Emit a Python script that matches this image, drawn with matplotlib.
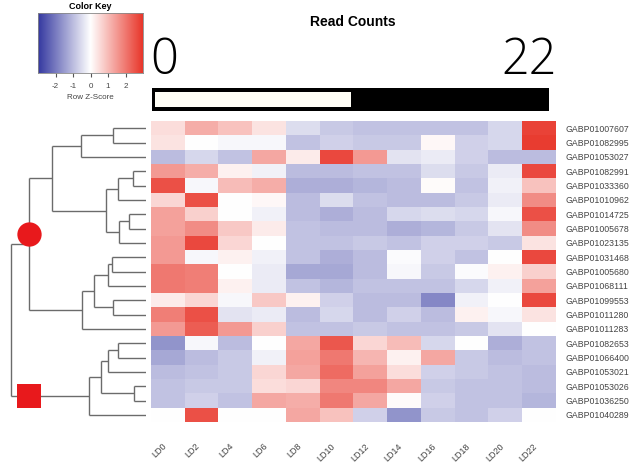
import numpy as np
import matplotlib
matplotlib.use("Agg")
import matplotlib.pyplot as plt
from matplotlib.colors import LinearSegmentedColormap
from matplotlib.patches import Rectangle

plt.rcParams['font.family'] = ['Liberation Sans', 'DejaVu Sans']

# ---- data -------------------------------------------------------------
samples = ["LD0", "LD2", "LD4", "LD6", "LD8", "LD10", "LD12", "LD14",
           "LD16", "LD18", "LD20", "LD22"]

genes = ["GABP01007607", "GABP01082995", "GABP01053027", "GABP01082991",
         "GABP01033360", "GABP01010962", "GABP01014725", "GABP01005678",
         "GABP01023135", "GABP01031468", "GABP01005680", "GABP01068111",
         "GABP01099553", "GABP01011280", "GABP01011283", "GABP01082653",
         "GABP01066400", "GABP01053021", "GABP01053026", "GABP01036250",
         "GABP01040289"]

# row z-scores, one list per gene (columns follow `samples`)
z_GABP01007607 = [0.5, 1.2, 0.9, 0.4, -0.5, -0.8, -0.9, -0.9, -0.9, -0.9, -0.6, 2.8]
z_GABP01082995 = [0.4, 0.0, -0.1, -0.1, -0.9, -0.7, -0.8, -0.8, 0.1, -0.7, -0.6, 2.9]
z_GABP01053027 = [-1.0, -0.6, -0.9, 1.3, 0.3, 2.7, 1.5, -0.4, -0.3, -0.7, -1.0, -1.0]
z_GABP01082991 = [1.5, 1.2, 0.2, -0.2, -1.0, -1.0, -0.9, -0.9, -0.5, -0.8, -0.3, 2.7]
z_GABP01033360 = [2.6, -0.1, 1.0, 1.2, -1.2, -1.2, -1.1, -1.0, 0.05, -0.9, -0.2, 0.9]
z_GABP01010962 = [0.6, 2.6, 0.0, 0.1, -1.0, -0.5, -0.9, -1.0, -1.0, -0.8, -0.3, 1.7]
z_GABP01014725 = [1.4, 0.7, 0.0, -0.2, -1.0, -1.2, -1.0, -0.6, -0.5, -0.6, -0.1, 2.6]
z_GABP01005678 = [1.4, 1.7, 0.8, 0.3, -0.9, -1.0, -1.0, -1.2, -1.1, -0.8, -0.4, 1.7]
z_GABP01023135 = [1.5, 2.7, 0.6, 0.0, -0.9, -0.9, -0.8, -0.9, -0.7, -0.7, -0.8, 0.4]
z_GABP01031468 = [1.5, -0.1, 0.2, -0.2, -0.9, -1.2, -1.0, -0.05, -0.7, -0.9, 0.0, 2.7]
z_GABP01005680 = [2.0, 1.9, 0.0, -0.3, -1.3, -1.3, -1.0, -0.1, -0.8, -0.05, 0.2, 0.7]
z_GABP01068111 = [2.0, 1.9, 0.2, -0.3, -0.9, -1.1, -0.9, -0.9, -0.9, -0.6, -0.2, 1.4]
z_GABP01099553 = [0.3, 0.6, -0.1, 0.8, 0.2, -0.7, -1.0, -1.0, -1.8, -0.2, 0.0, 2.7]
z_GABP01011280 = [1.9, 2.6, -0.4, -0.3, -1.0, -0.6, -1.0, -0.7, -1.0, 0.2, -0.1, 0.4]
z_GABP01011283 = [1.5, 2.4, 1.5, 0.7, -0.9, -0.9, -0.8, -0.9, -0.9, -0.8, -0.4, 0.0]
z_GABP01082653 = [-1.6, -0.1, -1.0, 0.0, 1.3, 2.5, 0.6, 1.0, -0.6, 0.0, -1.2, -0.9]
z_GABP01066400 = [-1.3, -1.0, -0.8, -0.2, 1.4, 2.0, 1.1, 0.2, 1.3, -0.8, -1.0, -0.9]
z_GABP01053021 = [-1.0, -0.9, -0.8, 0.6, 1.3, 2.2, 1.4, 0.5, -0.7, -0.8, -0.9, -1.0]
z_GABP01053026 = [-0.9, -0.8, -0.8, 0.5, 0.6, 1.8, 1.8, 1.3, -0.8, -0.9, -0.9, -1.0]
z_GABP01036250 = [-0.9, -0.7, -0.9, 1.3, 1.2, 2.0, 1.3, 0.05, -0.7, -0.9, -0.9, -1.1]
z_GABP01040289 = [0.0, 2.6, 0.0, 0.0, 1.3, 0.9, -0.7, -1.6, -0.8, -0.9, -0.7, 0.0]

# row dendrogram merges: (left child, right child, height); ids >= 21 are clusters
merges = [
    (0, 1, 33), (21, 2, 65), (3, 4, 13), (23, 5, 28), (6, 7, 17),
    (25, 8, 27), (24, 26, 40), (22, 27, 94), (9, 10, 34), (29, 11, 38),
    (12, 13, 33), (30, 31, 52), (32, 14, 64), (28, 33, 117), (15, 16, 28),
    (35, 17, 38), (18, 19, 12), (36, 37, 45), (38, 20, 57), (34, 39, 135),
]
circle_cluster = 34
square_cluster = 39

read_count = 11
read_count_max = 22

key_ticks = [-2, -1, 0, 1, 2]
z_limit = 3

matrix = np.array([
    z_GABP01007607, z_GABP01082995, z_GABP01053027, z_GABP01082991,
    z_GABP01033360, z_GABP01010962, z_GABP01014725, z_GABP01005678,
    z_GABP01023135, z_GABP01031468, z_GABP01005680, z_GABP01068111,
    z_GABP01099553, z_GABP01011280, z_GABP01011283, z_GABP01082653,
    z_GABP01066400, z_GABP01053021, z_GABP01053026, z_GABP01036250,
    z_GABP01040289,
])

# ---- figure -----------------------------------------------------------
W, H = 632, 469
fig = plt.figure(figsize=(W / 100, H / 100), dpi=100)


def px_axes(x0, y0, x1, y1, **kw):
    return fig.add_axes([x0 / W, 1 - y1 / H, (x1 - x0) / W, (y1 - y0) / H], **kw)


cmap = LinearSegmentedColormap.from_list(
    "bwr_key", ["#3438A0", "#FFFFFF", "#E8362A"])
text_gray = "#444444"

# heatmap
ax = px_axes(151, 121, 556, 422)
ax.imshow(matrix, cmap=cmap, vmin=-z_limit, vmax=z_limit,
          aspect="auto", interpolation="nearest")
for s in ax.spines.values():
    s.set_visible(False)
ax.set_xticks(range(len(samples)))
ax.set_xticklabels(samples, rotation=45, ha="right", va="top",
                   fontsize=6.5, color=text_gray)
ax.tick_params(axis="x", length=0, pad=14)
ax.yaxis.tick_right()
ax.set_yticks(range(len(genes)))
ax.set_yticklabels(genes, fontsize=6.3, color=text_gray)
ax.tick_params(axis="y", length=0, pad=7)

# row dendrogram
dax = px_axes(0, 121, 146, 422)
dax.set_xlim(146, 0)
dax.set_ylim(len(genes) - 0.5, -0.5)
dax.axis("off")
n = len(genes)
pos = {i: (0.0, float(i)) for i in range(n)}
line_kw = dict(color="#6b6b6b", lw=1.0, solid_capstyle="butt")
for k, (a, b, h) in enumerate(merges):
    ha_, ya = pos[a]
    hb, yb = pos[b]
    dax.plot([ha_, h], [ya, ya], **line_kw)
    dax.plot([hb, h], [yb, yb], **line_kw)
    dax.plot([h, h], [ya, yb], **line_kw)
    pos[n + k] = (float(h), (ya + yb) / 2)

hc, yc = pos[circle_cluster]
dax.plot(hc, yc - 0.7, marker="o", markersize=17.5, color="#E8191C",
         markeredgewidth=0, zorder=5)
hs, ys = pos[square_cluster]
dax.plot(hc, ys, marker="s", markersize=17, color="#E8191C",
         markeredgewidth=0, zorder=5)

# color key
kax = px_axes(38, 13, 143, 73)
grad = np.linspace(-z_limit, z_limit, 256)[None, :]
kax.imshow(grad, cmap=cmap, vmin=-z_limit, vmax=z_limit, aspect="auto",
           extent=[-z_limit, z_limit, 0, 1])
kax.set_yticks([])
kax.set_xticks(key_ticks)
kax.set_xticklabels([str(t) for t in key_ticks], fontsize=5.8, color=text_gray)
kax.tick_params(axis="x", length=3, width=0.8, color="#555555", pad=4)
kax.set_xlabel("Row Z-Score", fontsize=5.8, color=text_gray, labelpad=3)
kax.set_title("Color Key", fontsize=6.5, fontweight="bold", pad=3)
for s in kax.spines.values():
    s.set_color("#888888")
    s.set_linewidth(0.6)

# read counts gauge
fig.text(353 / W, 1 - 22 / H, "Read Counts", ha="center", va="center",
         fontsize=10, fontweight="bold")
fig.text(150 / W, 1 - 61 / H, "0", ha="left", va="center", fontsize=35,
         family=["Open Sans", "DejaVu Sans"], fontweight="light")
fig.text(557 / W, 1 - 61 / H, str(read_count_max), ha="right", va="center",
         fontsize=35, family=["Open Sans", "DejaVu Sans"], fontweight="light")

fig.add_artist(Rectangle((152 / W, 1 - 111 / H), (549 - 152) / W, 23 / H,
                         transform=fig.transFigure, facecolor="black",
                         edgecolor="none", zorder=-1))
gax = px_axes(155, 92, 546, 107, zorder=2)
gax.barh(0, read_count, height=1, left=0, color="#FFFEF6", edgecolor="none")
gax.set_xlim(0, read_count_max)
gax.set_ylim(-0.5, 0.5)
gax.axis("off")

fig.savefig("out.png", dpi=100)
